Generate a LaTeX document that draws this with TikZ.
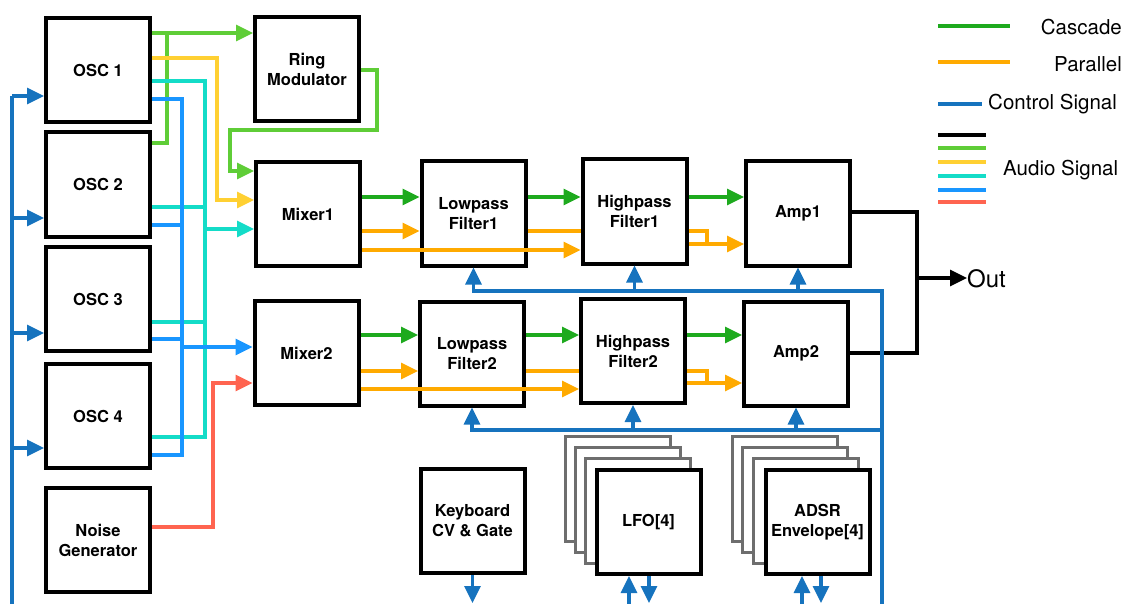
\documentclass[tikz,border=0pt]{standalone}
\usepackage{fontspec}
\setmainfont{TeX Gyre Heros}
\usetikzlibrary{arrows.meta}
\definecolor{cascade}{RGB}{30,170,30}
\definecolor{parallel}{RGB}{255,170,0}
\definecolor{ctrlblue}{RGB}{22,115,190}
\definecolor{agreen}{RGB}{95,205,55}
\definecolor{ayellow}{RGB}{255,208,50}
\definecolor{acyan}{RGB}{20,220,200}
\definecolor{ablue}{RGB}{25,150,255}
\definecolor{ared}{RGB}{255,100,80}
\definecolor{stackgray}{RGB}{110,110,110}
\tikzset{
  blk/.style={draw=black, line width=4pt, fill=white, minimum width=104pt, minimum height=104pt,
    inner sep=0pt, align=center, font=\fontsize{16.5}{20}\selectfont\bfseries},
  backblk/.style={draw=stackgray, line width=3pt, fill=white, minimum width=105pt, minimum height=105pt, inner sep=0pt},
  wire/.style={line width=3.2pt},
  tip/.style={-{Triangle[length=17pt,width=16pt]}},
  rtip/.style={{Triangle[length=17pt,width=16pt]}-},
  ctrl/.style={wire, draw=ctrlblue},
  legtext/.style={font=\fontsize{20.5}{24}\selectfont, inner sep=0pt},
}
\begin{document}
\begin{tikzpicture}[x=1pt,y=-1pt]
\useasboundingbox (0,0) rectangle (1126,604);
% boxes
\node[blk] (osc1) at (98,70) {OSC 1};
\node[blk] (osc2) at (98,184.5) {OSC 2};
\node[blk] (osc3) at (98,299) {OSC 3};
\node[blk] (osc4) at (98,416) {OSC 4};
\node[blk] (noise) at (98,540) {Noise\\Generator};
\node[blk] (ring) at (307,69.5) {Ring\\Modulator};
\node[blk] (mixer1) at (308,214) {Mixer1};
\node[blk] (mixer2) at (306.5,353) {Mixer2};
\node[blk] (lp1) at (473.5,213.5) {Lowpass\\Filter1};
\node[blk] (hp1) at (634.5,211.5) {Highpass\\Filter1};
\node[blk] (amp1) at (798,213.5) {Amp1};
\node[blk] (lp2) at (472,353.5) {Lowpass\\Filter2};
\node[blk] (hp2) at (633,351) {Highpass\\Filter2};
\node[blk] (amp2) at (796,353.5) {Amp2};
\node[blk] (kb) at (472.5,521) {Keyboard\\CV \& Gate};
\node[backblk] (lfoA) at (617.5,489) {};
\node[backblk] (lfoB) at (627.5,500) {};
\node[backblk] (lfoC) at (637.5,511) {};
\node[blk] (lfo) at (648.5,522) {LFO[4]};
\node[backblk] (adsrA) at (784.5,489) {};
\node[backblk] (adsrB) at (794.5,500) {};
\node[backblk] (adsrC) at (805.5,511) {};
\node[blk] (adsr) at (817.5,522) {ADSR\\Envelope[4]};

% left control line
\draw[ctrl] (12,604) -- (12,96) coordinate (c1);
\draw[ctrl,tip] (c1) -- (osc1.west |- c1);
\draw[ctrl,tip] (12,218) -- (osc2.west |- 0,218);
\draw[ctrl,tip] (12,333) -- (osc3.west |- 0,333);
\draw[ctrl,tip] (12,448) -- (osc4.west |- 0,448);

% light green to ring modulator
\draw[wire,agreen,tip] (osc1.east |- 0,33) -- (ring.west |- 0,33);
\draw[wire,agreen] (osc2.east |- 0,143) -| (167,33);
\draw[wire,agreen,tip] (ring.east |- 0,70) -- (377,70) -- (377,130) -- (230,130) -- (230,171) -- (mixer1.west |- 0,171);
% yellow
\draw[wire,ayellow,tip] (osc1.east |- 0,58) -| (217,200) -- (mixer1.west |- 0,200);
% cyan
\draw[wire,acyan] (osc1.east |- 0,81) -| (205,437) -- (osc4.east |- 0,437);
\draw[wire,acyan] (osc2.east |- 0,207) -- (205,207);
\draw[wire,acyan] (osc3.east |- 0,322) -- (205,322);
\draw[wire,acyan,tip] (205,229) -- (mixer1.west |- 0,229);
% blue
\draw[line width=4.5pt,ablue] (osc1.east |- 0,99) -| (182,455) -- (osc4.east |- 0,455);
\draw[wire,ablue] (osc2.east |- 0,225) -- (182,225);
\draw[wire,ablue] (osc3.east |- 0,339) -- (182,339);
\draw[wire,ablue,tip] (182,347) -- (mixer2.west |- 0,347);
% red
\draw[wire,ared,tip] (noise.east |- 0,527) -| (213,383) -- (mixer2.west |- 0,383);

% row 1
\draw[wire,cascade,tip] (mixer1.east |- 0,197) -- (lp1.west |- 0,197);
\draw[wire,cascade,tip] (lp1.east |- 0,197) -- (hp1.west |- 0,197);
\draw[wire,cascade,tip] (hp1.east |- 0,197) -- (amp1.west |- 0,197);
\draw[wire,parallel,tip] (mixer1.east |- 0,231) -- (lp1.west |- 0,231);
\draw[wire,parallel,tip] (mixer1.east |- 0,250) -- (hp1.west |- 0,250);
\draw[wire,parallel] (lp1.east |- 0,231) -- (hp1.west |- 0,231);
\draw[wire,parallel] (hp1.east |- 0,231) -| (707,244);
\draw[wire,parallel,tip] (hp1.east |- 0,244) -- (amp1.west |- 0,244);
% row 2
\draw[wire,cascade,tip] (mixer2.east |- 0,335) -- (lp2.west |- 0,335);
\draw[wire,cascade,tip] (lp2.east |- 0,335) -- (hp2.west |- 0,335);
\draw[wire,cascade,tip] (hp2.east |- 0,335) -- (amp2.west |- 0,335);
\draw[wire,parallel,tip] (mixer2.east |- 0,371) -- (lp2.west |- 0,371);
\draw[wire,parallel,tip] (mixer2.east |- 0,389) -- (hp2.west |- 0,389);
\draw[wire,parallel] (lp2.east |- 0,371) -- (hp2.west |- 0,371);
\draw[wire,parallel] (hp2.east |- 0,371) -| (707,383);
\draw[wire,parallel,tip] (hp2.east |- 0,383) -- (amp2.west |- 0,383);

% output
\node[font=\fontsize{24}{26}\selectfont, inner sep=0pt, anchor=west] (out) at (967,279) {Out};
\draw[wire,black] (amp1.east |- 0,212) -- (917,212) -- (917,353) -- (amp2.east |- 0,353);
\draw[wire,black,tip] (917,278) -- (out.west |- 0,278);

% control buses
\draw[ctrl,rtip] (lp1.south) -- (lp1.south |- 0,291) -- (882,291) -- (882,604);
\draw[ctrl,tip] (hp1.south |- 0,291) -- (hp1.south);
\draw[ctrl,tip] (amp1.south |- 0,291) -- (amp1.south);
\draw[ctrl,rtip] (lp2.south) -- (lp2.south |- 0,430) -- (882,430);
\draw[ctrl,tip] (hp2.south |- 0,430) -- (hp2.south);
\draw[ctrl,tip] (amp2.south |- 0,430) -- (amp2.south);
% bottom
\draw[ctrl,tip] (kb.south) -- (kb.south |- 0,603);
\draw[ctrl,tip] (629,604) -- (lfo.south -| 629,0);
\draw[ctrl,tip] (lfo.south -| 649,0) -- (649,603);
\draw[ctrl,tip] (802,604) -- (adsr.south -| 802,0);
\draw[ctrl,tip] (adsr.south -| 821,0) -- (821,603);

% legend
\draw[wire,cascade] (938,26) -- (1010,26);
\node[legtext, anchor=east] (lcas) at (1122,27) {Cascade};
\draw[wire,parallel] (938,62) -- (1010,62);
\node[legtext, anchor=east] (lpar) at (1122,64) {Parallel};
\draw[wire,ctrlblue] (938,104) -- (982,104);
\node[legtext, anchor=west] (lctl) at (988,104) {Control Signal};
\draw[wire,black] (938,135) -- (986,135);
\draw[wire,agreen] (938,148) -- (986,148);
\draw[wire,ayellow] (938,162) -- (986,162);
\draw[wire,acyan] (938,176) -- (986,176);
\draw[wire,ablue] (938,190) -- (986,190);
\draw[wire,ared] (938,202) -- (986,202);
\node[legtext, anchor=west] (laud) at (1003,170) {Audio Signal};
\end{tikzpicture}
\end{document}
